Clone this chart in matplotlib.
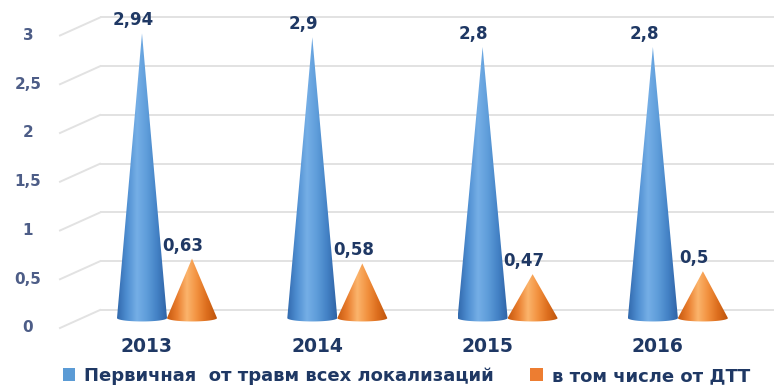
import numpy as np
import matplotlib
matplotlib.use("Agg")
import matplotlib.pyplot as plt
from matplotlib.patches import Polygon, Patch
from matplotlib.colors import LinearSegmentedColormap

years = ["2013", "2014", "2015", "2016"]
primary = [2.94, 2.9, 2.8, 2.8]
dtt = [0.63, 0.58, 0.47, 0.5]
series_names = ["Первичная  от травм всех локализаций", "в том числе от ДТТ"]
yticks = [0, 0.5, 1, 1.5, 2, 2.5, 3]
ytick_labels = ["0", "0,5", "1", "1,5", "2", "2,5", "3"]

def fmt(v):
    s = ("%.2f" % v).rstrip("0").rstrip(".")
    return s.replace(".", ",")

W, H = 774, 385
fig = plt.figure(figsize=(W / 100, H / 100), dpi=100)
ax = fig.add_axes([0, 0, 1, 1])
ax.set_axis_off()

PX_X = 170.3  # pixels per category
PX_Y = 97.5   # pixels per unit
x0px, y0px = 167, 320
ax.set_xlim(-x0px / PX_X, (W - x0px) / PX_X)
ax.set_ylim(-(H - y0px) / PX_Y, y0px / PX_Y)

def px2x(p):
    return (p - x0px) / PX_X

dy_back = 10 / PX_Y
dy_front = -8 / PX_Y
grid_c = "#e2e2e2"
for v, lab in zip(yticks, ytick_labels):
    ax.plot([px2x(100), px2x(W)], [v + dy_back, v + dy_back], color=grid_c, lw=1.4, zorder=1,
            solid_capstyle="butt")
    ax.plot([px2x(60), px2x(100)], [v + dy_front, v + dy_back], color=grid_c, lw=1.4, zorder=1)
    ax.text(px2x(28), v + dy_front, lab, ha="center", va="center", fontsize=11,
            fontweight="bold", color="#4d5d87", zorder=5)

blue_cmap = LinearSegmentedColormap.from_list(
    "b", ["#3169ad", "#4f8fd2", "#75aee6", "#5e9dda", "#4482c6", "#2f63a6"])
orange_cmap = LinearSegmentedColormap.from_list(
    "o", ["#c7590f", "#e97d2e", "#fbb46c", "#f2913f", "#dc6d1d", "#bd540c"])

half = 25 / PX_X
off = 25 / PX_X
grad = np.linspace(0, 1, 256).reshape(1, -1)

def cone(xc, v, cmap, z):
    n = 40
    t = np.linspace(0, np.pi, n)
    arc_x = xc + half * np.cos(t)
    arc_y = 0.02 - 0.035 * np.sin(t)
    verts = [(xc - half, 0.02), (xc, v), (xc + half, 0.02)]
    verts += list(zip(arc_x[1:], arc_y[1:]))
    poly = Polygon(verts, closed=True, facecolor="none", edgecolor="none", zorder=z)
    ax.add_patch(poly)
    im = ax.imshow(grad, cmap=cmap, aspect="auto",
                   extent=(xc - half, xc + half, -0.04, v), zorder=z, interpolation="bilinear")
    im.set_clip_path(poly)

lab_c = "#1f3864"
for i, (p, d) in enumerate(zip(primary, dtt)):
    cone(i - off, p, blue_cmap, 4)
    cone(i + off, d, orange_cmap, 3)
    ax.text(i - off - 9 / PX_X, p + 13 / PX_Y, fmt(p), ha="center", va="center",
            fontsize=12, fontweight="bold", color=lab_c, zorder=5)
    ax.text(i + off - 9 / PX_X, d + 13 / PX_Y, fmt(d), ha="center", va="center",
            fontsize=12, fontweight="bold", color=lab_c, zorder=3.5)
    ax.text(i - off + 5 / PX_X, -26 / PX_Y, years[i], ha="center", va="center",
            fontsize=13.5, fontweight="bold", color=lab_c, zorder=5)

handles = [Patch(facecolor="#5b9bd5", edgecolor="none"),
           Patch(facecolor="#ed7d31", edgecolor="none")]
leg = fig.legend(handles, series_names, loc="center", bbox_to_anchor=(0.525, 1 - 376 / H),
                 ncol=2, frameon=False, handlelength=0.7, handleheight=0.7,
                 handletextpad=0.5, columnspacing=2.0, borderpad=0,
                 prop={"size": 13, "weight": "bold"})
for t in leg.get_texts():
    t.set_color(lab_c)

fig.savefig("out.png", dpi=100)
